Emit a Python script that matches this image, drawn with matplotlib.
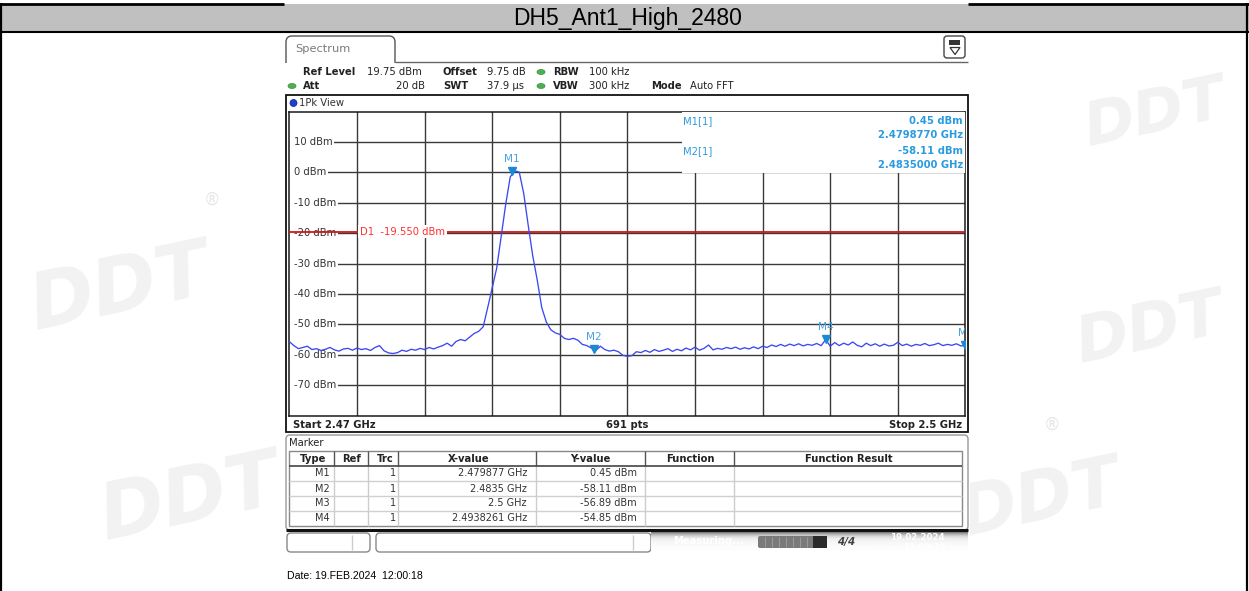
import numpy as np
import matplotlib
matplotlib.use("Agg")
import matplotlib.pyplot as plt
from matplotlib.patches import Rectangle, FancyBboxPatch, Ellipse, Polygon
from matplotlib.transforms import offset_copy

# ---------------- data ----------------
title = "DH5_Ant1_High_2480"
start_ghz = 2.47
stop_ghz = 2.5
sweep_points = 151
ref_level = 19.75
y_ticks = [10, 0, -10, -20, -30, -40, -50, -60, -70]
display_line = -19.55
level_dbm = [
    -55.7, -57.0, -58.0, -57.6, -57.2, -58.3, -58.0, -58.6, -58.2, -57.6,
    -58.4, -58.8, -58.1, -57.9, -58.5, -57.8, -58.3, -58.0, -58.6, -57.6,
    -57.0, -58.7, -59.4, -59.6, -59.3, -58.5, -58.9, -58.2, -58.5, -57.9,
    -58.3, -57.6, -58.1, -57.5, -57.0, -56.2, -57.2, -55.6, -55.0, -55.4,
    -54.2, -53.0, -52.3, -50.8, -44.5, -38.0, -31.5, -21.0, -10.5, -1.5,
    0.45, 0.1, -7.0, -17.5, -27.5, -35.5, -44.5, -49.2, -51.8, -52.8,
    -53.3, -54.6, -55.0, -54.6, -55.2, -56.6, -57.0, -57.8, -58.6, -57.2,
    -58.3, -58.8, -58.5, -59.0, -60.2, -60.5, -60.3, -59.0, -59.3, -58.6,
    -59.2, -58.3, -58.9, -58.5, -58.0, -58.9, -58.2, -58.7, -57.8, -58.4,
    -57.5, -58.5, -57.9, -56.8, -58.4, -57.9, -58.2, -57.6, -58.0, -57.5,
    -58.2, -57.7, -58.1, -57.4, -58.0, -57.2, -57.6, -56.8, -57.3, -56.6,
    -57.2, -56.5, -57.0, -56.4, -57.1, -56.6, -56.9, -56.3, -57.0, -55.0,
    -57.2, -56.0, -57.0, -56.2, -56.8, -55.8, -56.9, -57.4, -56.2, -57.0,
    -56.4, -57.2, -56.5, -57.1, -56.9, -55.9, -57.0, -56.5, -57.2, -56.6,
    -56.9, -56.3, -57.0, -56.7, -56.2, -57.0, -56.6, -56.9, -56.4, -57.1,
    -56.89]
marker_names = ["M1", "M2", "M3", "M4"]
marker_freq = [2.479877, 2.4835, 2.5, 2.4938261]
marker_level = [0.45, -58.11, -56.89, -54.85]
marker_trc = ["1", "1", "1", "1"]
marker_x_text = ["2.479877 GHz", "2.4835 GHz", "2.5 GHz", "2.4938261 GHz"]
marker_y_text = ["0.45 dBm", "-58.11 dBm", "-56.89 dBm", "-54.85 dBm"]
table_headers = ["Type", "Ref", "Trc", "X-value", "Y-value", "Function", "Function Result"]
date_text = "Date: 19.FEB.2024  12:00:18"

freq = np.linspace(start_ghz, stop_ghz, sweep_points)

plt.rcParams["font.family"] = ["DejaVu Sans"]
W, H = 1249, 591
fig = plt.figure(figsize=(W / 100, H / 100), dpi=100)
fig.patch.set_facecolor("white")

bg = fig.add_axes([0, 0, 1, 1])
bg.set_xlim(0, W)
bg.set_ylim(H, 0)
bg.axis("off")
bg.set_zorder(0)


def hline(y, x0, x1, **kw):
    bg.plot([x0, x1], [y, y], solid_capstyle="butt", **kw)


def vline(x, y0, y1, **kw):
    bg.plot([x, x], [y0, y1], solid_capstyle="butt", **kw)


def t(x, y, s, **kw):
    kw.setdefault("fontsize", 7.2)
    kw.setdefault("va", "center")
    kw.setdefault("color", "#222222")
    bg.text(x, y, s, **kw)


# faint watermarks
for (wx, wy, fs) in [(120, 290, 56), (190, 500, 56), (1155, 115, 44),
                     (1150, 330, 46), (1040, 500, 50)]:
    bg.text(wx, wy, "DDT", fontsize=fs, fontweight="bold", style="italic",
            color="#f2f2f2", ha="center", va="center", rotation=12, zorder=0)
for (rx, ry) in [(212, 200), (1052, 425)]:
    bg.text(rx, ry, "®", fontsize=12, color="#e6e6e6", ha="center", va="center", zorder=0)

# title bar
bg.add_patch(Rectangle((0, 3.5), W, 28.5, fc="#c0c0c0", ec="none", zorder=1))
hline(3.5, 0, 284, color="black", lw=2, zorder=2)
hline(3.5, 968, W, color="black", lw=2, zorder=2)
hline(32, 0, W, color="black", lw=1.5, zorder=2)
vline(1, 3, H, color="black", lw=1.6, zorder=2)
vline(1247.5, 3, H, color="black", lw=1.6, zorder=2)
bg.text(628, 18, title, fontsize=16.5, family="Liberation Sans", ha="center",
        va="center", color="black", zorder=3)

# screenshot body
bg.add_patch(Rectangle((284, 33), 686, 523, fc="white", ec="none", zorder=1))

# Spectrum tab
bg.add_patch(FancyBboxPatch((286, 36), 109, 34, boxstyle="round,pad=0,rounding_size=6",
                            fc="white", ec="#555555", lw=1, zorder=2))
bg.add_patch(Rectangle((284, 62.6), 114, 10, fc="white", ec="none", zorder=3))
hline(62, 395, 968, color="#666666", lw=1, zorder=3)
t(295, 48.5, "Spectrum", fontsize=8.2, color="#7a7a7a", zorder=4)

# top-right icon
bg.add_patch(FancyBboxPatch((944, 36), 21, 22, boxstyle="round,pad=0,rounding_size=3",
                            fc="white", ec="#444444", lw=1, zorder=3))
bg.add_patch(Rectangle((949, 39.5), 11, 5, fc="#333333", ec="none", zorder=4))
bg.add_patch(Polygon([[950, 47.5], [960, 47.5], [955, 54.5]], closed=True,
                     fc="white", ec="#333333", lw=0.9, zorder=4))

# header lines
r1, r2 = 72, 86
t(303, r1, "Ref Level", fontweight="bold", zorder=4)
t(367, r1, "19.75 dBm", zorder=4)
t(443, r1, "Offset", fontweight="bold", zorder=4)
t(487, r1, "9.75 dB", zorder=4)
t(553, r1, "RBW", fontweight="bold", zorder=4)
t(589, r1, "100 kHz", zorder=4)
t(303, r2, "Att", fontweight="bold", zorder=4)
t(425, r2, "20 dB", ha="right", zorder=4)
t(443, r2, "SWT", fontweight="bold", zorder=4)
t(487, r2, "37.9 µs", zorder=4)
t(553, r2, "VBW", fontweight="bold", zorder=4)
t(589, r2, "300 kHz", zorder=4)
t(651, r2, "Mode", fontweight="bold", zorder=4)
t(690, r2, "Auto FFT", zorder=4)
for (gx, gy) in [(541, r1), (292, r2), (541, r2)]:
    bg.add_patch(Ellipse((gx, gy), 8, 5, fc="#4caf50", ec="#3d8f40", lw=0.5, zorder=4))

# plot frame
bg.add_patch(Rectangle((286, 95), 682, 337, fc="white", ec="#111111", lw=1.3, zorder=2))
bg.add_patch(Ellipse((293.5, 103), 7, 7, fc="#1f3fd0", ec="#0a1f90", lw=0.5, zorder=4))
t(299, 103, "1Pk View", color="#333333", zorder=4)
t(293, 424.5, "Start 2.47 GHz", fontweight="bold", zorder=4)
t(627, 424.5, "691 pts", fontweight="bold", ha="center", zorder=4)
t(962, 424.5, "Stop 2.5 GHz", fontweight="bold", ha="right", zorder=4)

# marker panel
bg.add_patch(FancyBboxPatch((286, 435), 682, 95, boxstyle="round,pad=0,rounding_size=4",
                            fc="white", ec="#999999", lw=1, zorder=2))
t(289, 443, "Marker", zorder=4)
tl, tr, top, hb = 289, 962, 451, 466
rows = [473.5, 488.5, 503, 518]
row_lines = [481, 496, 510.5]
bot = 526
col_x = [334, 368, 398, 536, 645, 734]
bg.add_patch(Rectangle((tl, top), tr - tl, bot - top, fc="white", ec="#888888", lw=1, zorder=3))
for cx in col_x:
    vline(cx, top, hb, color="#555555", lw=1, zorder=4)
    vline(cx, hb, bot, color="#cccccc", lw=1, zorder=4)
hline(hb, tl, tr, color="#444444", lw=1.2, zorder=4)
for ry in row_lines:
    hline(ry, tl, tr, color="#d0d0d0", lw=1, zorder=4)
head_x = [313, 352, 385, 469, 590, 690, 849]
for hx, hs in zip(head_x, table_headers):
    t(hx, 459, hs, fontweight="bold", ha="center", zorder=5)
for ry, nm, tr_, xv, yv in zip(rows, marker_names, marker_trc, marker_x_text, marker_y_text):
    t(330, ry, nm, ha="right", fontsize=7, color="#333333", zorder=5)
    t(396, ry, tr_, ha="right", fontsize=7, color="#333333", zorder=5)
    t(527, ry, xv, ha="right", fontsize=7, color="#333333", zorder=5)
    t(637, ry, yv, ha="right", fontsize=7, color="#333333", zorder=5)
hline(530, 286, 968, color="#111111", lw=2.2, zorder=5)

# status bar
for (bx, bw, dx) in [(287, 83, 352), (376, 275, 633)]:
    bg.add_patch(FancyBboxPatch((bx, 533), bw, 19, boxstyle="round,pad=0,rounding_size=4",
                                fc="white", ec="#888888", lw=1, zorder=3))
    vline(dx, 535, 550, color="#cccccc", lw=1, zorder=4)
grad = np.array([0.40, 0.55, 0.68, 0.78, 0.85, 0.90, 0.93, 0.95, 0.96, 0.97,
                 0.975, 0.98, 0.985, 0.99, 0.99, 0.995, 1.0, 1.0]).reshape(-1, 1)
bg.imshow(grad, cmap="gray", vmin=0, vmax=1, extent=(651, 968, 553, 531),
          aspect="auto", zorder=3, interpolation="bilinear")
t(673, 541, "Measuring...", fontweight="bold", color="white", fontsize=7.2, zorder=4)
bg.add_patch(FancyBboxPatch((758, 536), 69, 12, boxstyle="round,pad=0,rounding_size=2",
                            fc="#7a7a7a", ec="none", zorder=4))
for sx in range(765, 813, 7):
    vline(sx, 537, 547, color="#9a9a9a", lw=0.8, zorder=5)
bg.add_patch(Rectangle((813, 536), 14, 12, fc="#2a2a2a", ec="none", zorder=5))
t(846, 541.5, "4/4", fontweight="bold", style="italic", color="#444444",
  fontsize=7.5, ha="center", zorder=5)
t(917, 537, "19.02.2024", fontweight="bold", color="white", fontsize=6.2, ha="center", zorder=5)
t(924, 547, "12:00:18", fontweight="bold", color="white", fontsize=6.2, ha="center", zorder=5)

# date line
bg.text(287, 576, date_text, fontsize=7.6, family="Liberation Sans", va="center",
        color="black", zorder=4)

# ---------------- main trace axes ----------------
PL, PR, PT, PB = 289.4, 965.4, 112.3, 416.3
ax = fig.add_axes([PL / W, (H - PB) / H, (PR - PL) / W, (PB - PT) / H])
ax.set_zorder(1)
ax.set_xlim(start_ghz, stop_ghz)
ax.set_ylim(ref_level - 100, ref_level)
ax.set_xticks([])
ax.set_yticks([])
for sp in ax.spines.values():
    sp.set_color("#1a1a1a")
    sp.set_linewidth(1.1)


def px2data(x, y):
    return (start_ghz + (x - PL) / (PR - PL) * (stop_ghz - start_ghz),
            ref_level - (y - PT) / (PB - PT) * 100)


span = stop_ghz - start_ghz
for k in range(1, 10):
    ax.axvline(start_ghz + k * span / 10, color="#3a3a3a", lw=1.0, zorder=1)
for yv in y_ticks:
    ax.axhline(yv, color="#3a3a3a", lw=1.0, zorder=1)

lab_x = px2data(294, 0)[0]
ylabels = []
for yv in y_ticks:
    ylabels.append(ax.text(lab_x, yv, f"{yv} dBm", fontsize=7.2, color="#333333",
                           va="center", zorder=2.2))

ax.axhline(display_line, color="#d41515", lw=1.3, zorder=3)
ax.text(px2data(360, 0)[0], display_line, f"D1  {display_line:.3f} dBm", fontsize=7.2,
        color="#ff3030", va="center", bbox=dict(fc="white", ec="none", pad=1.2), zorder=3.5)

ax.plot(freq, level_dbm, color="#3b48f2", lw=0.95, zorder=4)

ax.plot(marker_freq, marker_level, "v", ms=6, color="#1a8ad4", zorder=5)
tr_lab = offset_copy(ax.transData, fig=fig, x=0, y=8.8, units="points")
for nm, mf, ml in zip(marker_names, marker_freq, marker_level):
    ax.text(mf, ml, nm, transform=tr_lab, fontsize=7.6, color="#4aa3e0",
            ha="center", va="center", clip_on=True, zorder=5)

# marker info box
bx0, by0 = px2data(682, 173)
ax.add_patch(Rectangle((bx0, by0), stop_ghz - bx0, ref_level - by0, fc="white",
                       ec="none", zorder=6))
info_c = "#2b9be0"
for (x, y, s, ha, fw) in [(683, 121, f"{marker_names[0]}[1]", "left", "normal"),
                          (963, 121, f"{marker_level[0]:.2f} dBm", "right", "bold"),
                          (963, 135, f"{marker_freq[0]:.7f} GHz", "right", "bold"),
                          (683, 151, f"{marker_names[1]}[1]", "left", "normal"),
                          (963, 151, f"{marker_level[1]:.2f} dBm", "right", "bold"),
                          (963, 165, f"{marker_freq[1]:.7f} GHz", "right", "bold")]:
    dx, dy = px2data(x, y)
    ax.text(dx, dy, s, fontsize=7.2, color=info_c, ha=ha, va="center",
            fontweight=fw, zorder=7)

# white gaps in grid lines behind the level labels (from plot edge to label end)
fig.canvas.draw()
renderer = fig.canvas.get_renderer()
inv = ax.transData.inverted()
for lab, yv in zip(ylabels, y_ticks):
    bb = lab.get_window_extent(renderer)
    x1 = inv.transform((bb.x1 + 1.5, bb.y0))[0]
    y0 = inv.transform((bb.x0, bb.y0 + 1))[1]
    y1 = inv.transform((bb.x0, bb.y1 - 1))[1]
    ax.add_patch(Rectangle((start_ghz, y0), x1 - start_ghz, y1 - y0, fc="white",
                           ec="none", zorder=1.5))

fig.savefig("out.png", dpi=100, facecolor="white")
